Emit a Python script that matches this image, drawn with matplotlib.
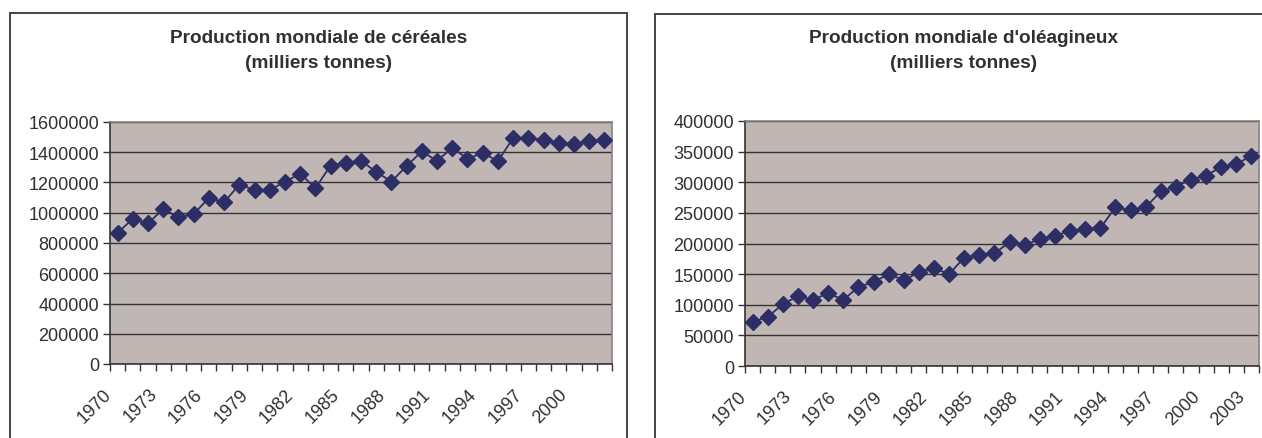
import matplotlib
matplotlib.use("Agg")
import matplotlib.pyplot as plt
from matplotlib.patches import Rectangle
from matplotlib.ticker import FixedLocator, FuncFormatter, NullLocator
from matplotlib.transforms import ScaledTranslation

plt.rcParams["font.family"] = ["Liberation Sans", "DejaVu Sans"]

# World cereal production, thousand tonnes, 1970-2002
cereal_years = list(range(1970, 2003))
cereal_values = [
    867000, 960000, 929000, 1025000, 969000, 991000, 1098000, 1069000,
    1186000, 1151000, 1151000, 1204000, 1259000, 1162000, 1312000, 1332000,
    1343000, 1270000, 1206000, 1310000, 1405000, 1343000, 1430000, 1357000,
    1396000, 1341000, 1494000, 1494000, 1483000, 1461000, 1452000, 1472000,
    1483000,
]
cereal_yticks = [0, 200000, 400000, 600000, 800000, 1000000, 1200000, 1400000, 1600000]

# World oilseed production, thousand tonnes, 1970-2003
oil_years = list(range(1970, 2004))
oil_values = [
    72000, 80000, 101000, 114000, 108000, 119000, 108000, 129000,
    137000, 150000, 140000, 153000, 160000, 150000, 177000, 182000,
    184000, 202000, 197000, 208000, 212000, 221000, 223000, 225000,
    259000, 254000, 259000, 285000, 293000, 304000, 311000, 325000,
    330000, 343000,
]
oil_yticks = [0, 50000, 100000, 150000, 200000, 250000, 300000, 350000, 400000]

titles = [
    "Production mondiale de céréales\n(milliers tonnes)",
    "Production mondiale d'oléagineux\n(milliers tonnes)",
]

W, H = 1262, 439
fig = plt.figure(figsize=(W / 100, H / 100), dpi=100)
fig.patch.set_facecolor("white")

PLOT_BG = "#C0B7B4"
LINE_COL = "#2E2E66"
TEXT_COL = "#303030"
GRID_COL = "#333333"


def px_rect(x0, y0, x1, y1):
    """Convert a pixel box (top-left origin) into figure fractions."""
    return [x0 / W, 1 - y1 / H, (x1 - x0) / W, (y1 - y0) / H]


# chart frames
fig.patches.append(Rectangle((10 / W, -0.1), (626.5 - 10) / W, 1.1 - 13.5 / H,
                             transform=fig.transFigure, fill=False,
                             edgecolor="#444444", linewidth=1.4))
fig.patches.append(Rectangle((655 / W, -0.1), 1.0, 1.1 - 15 / H,
                             transform=fig.transFigure, fill=False,
                             edgecolor="#444444", linewidth=1.4))


def draw_chart(box, years, values, yticks, title, title_x):
    ax = fig.add_axes(px_rect(*box))
    n = len(years)
    idx = list(range(n))
    ax.set_facecolor(PLOT_BG)
    ax.plot(idx, values, color=LINE_COL, linewidth=1.3, marker="D",
            markersize=7.8, markerfacecolor=LINE_COL, markeredgecolor=LINE_COL,
            zorder=3)
    ax.set_xlim(-0.5, n - 0.5)
    ax.set_ylim(yticks[0], yticks[-1])

    ax.set_yticks(yticks)
    ax.yaxis.set_major_formatter(FuncFormatter(lambda v, p: f"{int(v)}"))
    ax.yaxis.grid(True, color=GRID_COL, linewidth=1.0)
    ax.set_axisbelow(True)

    # ticks on category boundaries
    ax.xaxis.set_major_locator(FixedLocator([i - 0.5 for i in range(n + 1)]))
    ax.xaxis.set_major_formatter(FuncFormatter(lambda v, p: ""))
    ax.xaxis.set_minor_locator(NullLocator())
    ax.tick_params(axis="x", which="major", length=5, width=1,
                   color="#333333", direction="out")
    ax.tick_params(axis="y", length=5, width=1, color="#333333",
                   labelsize=13, labelcolor=TEXT_COL, pad=3)

    # year labels every third category, slanted at 45 degrees
    shift = ScaledTranslation(-15 / 100, -21 / 100, fig.dpi_scale_trans)
    for i in idx[::3]:
        ax.text(i, 0, str(years[i]), transform=ax.get_xaxis_transform() + shift,
                rotation=45, rotation_mode="anchor", ha="right", va="top",
                fontsize=13, color=TEXT_COL, clip_on=False)

    for side in ("top", "right"):
        ax.spines[side].set_color("#8C8280")
        ax.spines[side].set_linewidth(1.2)
    for side in ("left", "bottom"):
        ax.spines[side].set_color("#333333")
        ax.spines[side].set_linewidth(1.2)

    fig.text(title_x / W, 1 - 30 / H, title, ha="center", va="top",
             fontsize=13.7, fontweight="bold", color=TEXT_COL, linespacing=1.6)
    return ax


draw_chart((110, 123, 612, 365), cereal_years, cereal_values, cereal_yticks,
           titles[0], 319)
draw_chart((745, 122, 1259, 367), oil_years, oil_values, oil_yticks,
           titles[1], 964)

fig.savefig("out.png", dpi=100)
